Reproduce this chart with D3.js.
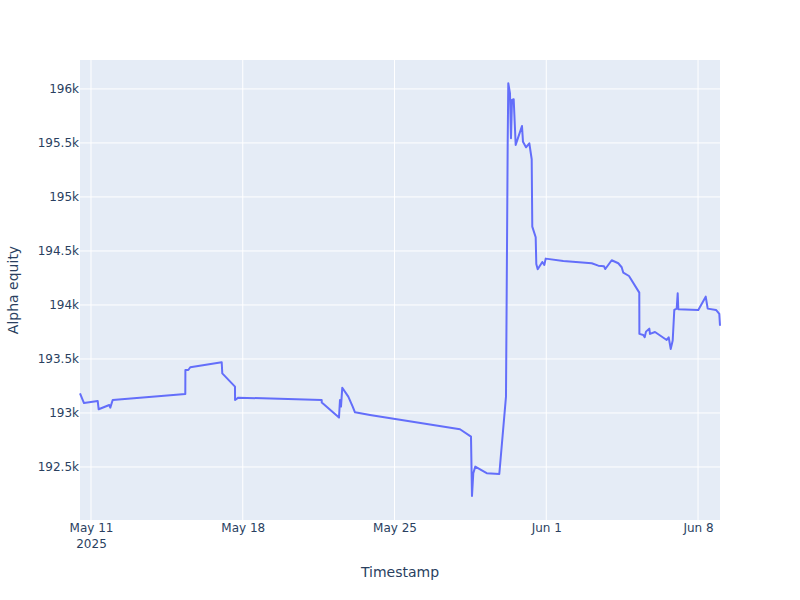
<!DOCTYPE html>
<html>
<head>
<meta charset="utf-8">
<script src="https://cdn.jsdelivr.net/npm/d3@7"></script>
<style>
  body { margin: 0; background: #fff; }
  text { font-family: "DejaVu Sans", verdana, arial, sans-serif; }
</style>
</head>
<body>
<div id="container"></div>
<script>
(function(){
  "use strict";

  // timestamps (UTC) and equity values
  var timestamps = [
    "2025-05-10T11:50", "2025-05-10T16:15", "2025-05-11T07:25", "2025-05-11T08:31",
    "2025-05-11T20:15", "2025-05-11T21:22", "2025-05-12T00:01", "2025-05-15T08:24",
    "2025-05-15T08:30", "2025-05-15T11:43", "2025-05-15T13:55", "2025-05-17T00:42",
    "2025-05-17T01:21", "2025-05-17T15:24", "2025-05-17T15:30", "2025-05-17T19:03",
    "2025-05-21T15:23", "2025-05-21T15:30", "2025-05-22T10:32", "2025-05-22T11:38",
    "2025-05-22T12:45", "2025-05-22T14:11", "2025-05-22T20:50", "2025-05-23T01:42",
    "2025-05-23T04:15", "2025-05-23T20:51", "2025-05-28T00:29", "2025-05-28T12:40",
    "2025-05-28T13:46", "2025-05-28T15:13", "2025-05-28T17:25", "2025-05-29T06:03",
    "2025-05-29T20:00", "2025-05-30T03:24", "2025-05-30T04:11", "2025-05-30T05:17",
    "2025-05-30T05:57", "2025-05-30T07:49", "2025-05-30T08:57", "2025-05-30T10:03",
    "2025-05-30T11:56", "2025-05-30T14:08", "2025-05-30T17:28", "2025-05-30T21:07",
    "2025-05-30T22:13", "2025-05-31T01:34", "2025-05-31T05:13", "2025-05-31T07:52",
    "2025-05-31T08:31", "2025-05-31T12:17", "2025-05-31T12:57", "2025-05-31T14:31",
    "2025-05-31T19:36", "2025-05-31T21:49", "2025-05-31T23:22", "2025-06-01T18:50",
    "2025-06-03T02:17", "2025-06-03T09:36", "2025-06-03T15:53", "2025-06-03T17:20",
    "2025-06-04T00:25", "2025-06-04T07:43", "2025-06-04T11:29", "2025-06-04T13:16",
    "2025-06-04T19:34", "2025-06-05T06:58", "2025-06-05T07:05", "2025-06-05T11:24",
    "2025-06-05T12:57", "2025-06-05T14:24", "2025-06-05T18:03", "2025-06-05T18:49",
    "2025-06-06T00:22", "2025-06-06T13:18", "2025-06-06T15:31", "2025-06-06T17:44",
    "2025-06-06T19:57", "2025-06-06T21:43", "2025-06-07T00:23", "2025-06-07T01:29",
    "2025-06-07T02:10", "2025-06-08T00:17", "2025-06-08T08:30", "2025-06-08T10:42",
    "2025-06-08T19:54", "2025-06-08T23:33", "2025-06-09T00:19"
  ];
  var equity = [
    193182, 193092, 193111, 193034, 193074, 193049, 193120, 193176,
    193398, 193398, 193423, 193470, 193367, 193244, 193120, 193142,
    193120, 193096, 192957, 193120, 193059, 193234, 193151, 193059,
    193006, 192982, 192849, 192781, 192231, 192442, 192503, 192442,
    192435, 193151, 194108, 195497, 196053, 195960, 195543, 195898,
    195905, 195481, 195565, 195657, 195512, 195460, 195497, 195349,
    194725, 194627, 194380, 194330, 194398, 194370, 194429, 194407,
    194386, 194364, 194358, 194333, 194414, 194386, 194349, 194299,
    194268, 194114, 193732, 193722, 193701, 193753, 193781, 193732,
    193750, 193676, 193701, 193593, 193670, 193954, 193966, 194108,
    193960, 193954, 194077, 193966, 193954, 193917, 193808
  ];
  var xTickDates = ["2025-05-11", "2025-05-18", "2025-05-25", "2025-06-01", "2025-06-08"];
  var yTickValues = [192500, 193000, 193500, 194000, 194500, 195000, 195500, 196000];
  var yRange = [192009, 196268];

  var parseTime = d3.utcParse("%Y-%m-%dT%H:%M");
  var parseDay = d3.utcParse("%Y-%m-%d");
  var data = timestamps.map(function(t, i) {
    return { time: parseTime(t), value: equity[i] };
  });

  var margin = { top: 60, right: 80, bottom: 80, left: 80 };
  var totalWidth = 800, totalHeight = 600;
  var width = totalWidth - margin.left - margin.right;
  var height = totalHeight - margin.top - margin.bottom;

  var svg = d3.select("#container").append("svg")
      .attr("width", totalWidth)
      .attr("height", totalHeight);

  var chart = svg.append("g")
      .attr("transform", "translate(" + margin.left + "," + margin.top + ")");

  chart.append("rect")
      .attr("width", width)
      .attr("height", height)
      .attr("fill", "#e5ecf6");

  var xScale = d3.scaleUtc()
      .domain(d3.extent(data, function(d) { return d.time; }))
      .range([0, width]);
  var yScale = d3.scaleLinear()
      .domain(yRange)
      .range([height, 0]);

  var xTicks = xTickDates.map(parseDay);
  var fmtDay = d3.utcFormat("%b %-d");
  var fmtK = d3.format("~s");

  // grid
  chart.append("g").selectAll("line.xg")
      .data(xTicks).enter().append("line")
      .attr("x1", function(d) { return xScale(d); })
      .attr("x2", function(d) { return xScale(d); })
      .attr("y1", 0).attr("y2", height)
      .attr("stroke", "#fff").attr("stroke-width", 1);
  chart.append("g").selectAll("line.yg")
      .data(yTickValues).enter().append("line")
      .attr("x1", 0).attr("x2", width)
      .attr("y1", function(d) { return yScale(d); })
      .attr("y2", function(d) { return yScale(d); })
      .attr("stroke", "#fff").attr("stroke-width", 1);

  // axes
  var xAxis = d3.axisBottom(xScale)
      .tickValues(xTicks)
      .tickSize(0)
      .tickPadding(3)
      .tickFormat(fmtDay);
  var xAxisGroup = chart.append("g")
      .attr("transform", "translate(0," + height + ")")
      .call(xAxis);
  xAxisGroup.select(".domain").remove();
  xAxisGroup.selectAll("text")
      .attr("fill", "#2a3f5f")
      .style("font-size", "12px");
  xAxisGroup.selectAll(".tick").filter(function(d, i) { return i === 0; })
      .append("text")
      .attr("fill", "#2a3f5f")
      .attr("y", 19)
      .attr("dy", "0.71em")
      .attr("text-anchor", "middle")
      .style("font-size", "12px")
      .text("2025");

  var yAxis = d3.axisLeft(yScale)
      .tickValues(yTickValues)
      .tickSize(0)
      .tickPadding(1)
      .tickFormat(fmtK);
  var yAxisGroup = chart.append("g").call(yAxis);
  yAxisGroup.select(".domain").remove();
  yAxisGroup.selectAll("text")
      .attr("fill", "#2a3f5f")
      .style("font-size", "12px");

  // the equity line
  var line = d3.line()
      .x(function(d) { return xScale(d.time); })
      .y(function(d) { return yScale(d.value); });
  chart.append("path")
      .datum(data)
      .attr("fill", "none")
      .attr("stroke", "#636efa")
      .attr("stroke-width", 2)
      .attr("stroke-linejoin", "round")
      .attr("d", line);

  // axis titles
  svg.append("text")
      .attr("x", margin.left + width / 2)
      .attr("y", 577)
      .attr("text-anchor", "middle")
      .attr("fill", "#2a3f5f")
      .style("font-size", "14px")
      .text("Timestamp");
  svg.append("text")
      .attr("transform", "translate(18," + (margin.top + height / 2) + ") rotate(-90)")
      .attr("text-anchor", "middle")
      .attr("fill", "#2a3f5f")
      .style("font-size", "14px")
      .text("Alpha equity");
})();
</script>
</body>
</html>
